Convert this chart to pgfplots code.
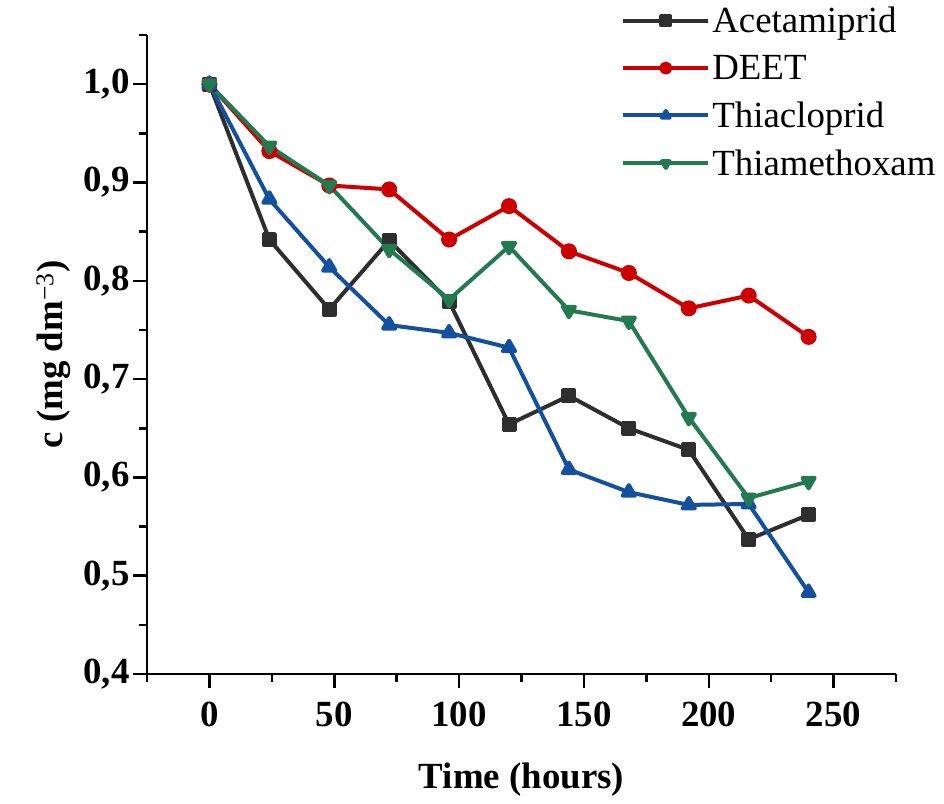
\documentclass[border=0pt]{standalone}
\usepackage{pgfplots}
\pgfplotsset{compat=1.18}
\usepackage{fontspec}
\setmainfont{Liberation Serif}
\definecolor{cA}{HTML}{2E2E2E}
\definecolor{cD}{HTML}{CC0000}
\definecolor{cT}{HTML}{1450A0}
\definecolor{cX}{HTML}{237A50}
\begin{document}
\begin{tikzpicture}
\begin{axis}[
  scale only axis,
  width=749bp, height=639bp,
  xmin=-25, xmax=275, ymin=0.4, ymax=1.0501,
  axis lines*=left,
  axis line style={line width=2.5bp, black},
  tick align=outside,
  major tick length=14bp, minor tick length=8bp,
  every tick/.style={line width=2.5bp, black},
  xtick={0,50,...,250},
  minor xtick={-25,25,75,125,175,225,275},
  ytick={0.4,0.5,0.6,0.7,0.8,0.9,1.0},
  minor ytick={0.45,0.55,0.65,0.75,0.85,0.95,1.05},
  /pgf/number format/assume math mode=true,
  yticklabel style={/pgf/number format/.cd, fixed, fixed zerofill, precision=1, use comma},
  ticklabel style={font=\fontsize{37}{42}\selectfont\bfseries},
  xticklabel style={yshift=-10bp},
  xlabel={\textbf{Time (hours)}},
  ylabel={\textbf{c (mg dm}\textsuperscript{−3}\textbf{)}},
  label style={font=\fontsize{37}{42}\selectfont},
  xlabel style={yshift=-30bp},
  ylabel style={yshift=6bp},
  legend style={draw=none, fill=none, at={(0.629,1.050)}, anchor=north west,
    font=\fontsize{37}{42}\selectfont, row sep=17bp,
    /tikz/every even column/.append style={column sep=4bp}},
  legend cell align=left,
  legend image code/.code={\draw[mark repeat=2,mark phase=2,mark size=4.5bp] plot coordinates {(0cm,0cm) (1.5cm,0cm) (3cm,0cm)};},
  every axis plot/.append style={line width=4bp, line join=round},
]
\addplot[color=cA, mark=square*, mark size=5.5bp, mark options={solid}] coordinates {
(0,1.0) (24,0.842) (48,0.771) (72,0.841) (96,0.779) (120,0.654) (144,0.683) (168,0.650) (192,0.628) (216,0.537) (240,0.562)};
\addlegendentry{Acetamiprid}
\addplot[color=cD, mark=*, mark size=6bp] coordinates {
(0,1.0) (24,0.932) (48,0.897) (72,0.893) (96,0.842) (120,0.876) (144,0.830) (168,0.808) (192,0.772) (216,0.785) (240,0.743)};
\addlegendentry{DEET}
\addplot[color=cT, mark=triangle*, mark size=7bp] coordinates {
(0,1.0) (24,0.883) (48,0.814) (72,0.755) (96,0.747) (120,0.732) (144,0.608) (168,0.585) (192,0.572) (216,0.573) (240,0.483)};
\addlegendentry{Thiacloprid}
\addplot[color=cX, mark=triangle*, mark size=7bp, mark options={rotate=180}] coordinates {
(0,1.0) (24,0.937) (48,0.897) (72,0.832) (96,0.781) (120,0.835) (144,0.770) (168,0.759) (192,0.661) (216,0.579) (240,0.596)};
\addlegendentry{Thiamethoxam}
\end{axis}
\path (current axis.south west) ++(-147bp,-130bp) rectangle ++(944bp,804bp);
\end{tikzpicture}
\end{document}
